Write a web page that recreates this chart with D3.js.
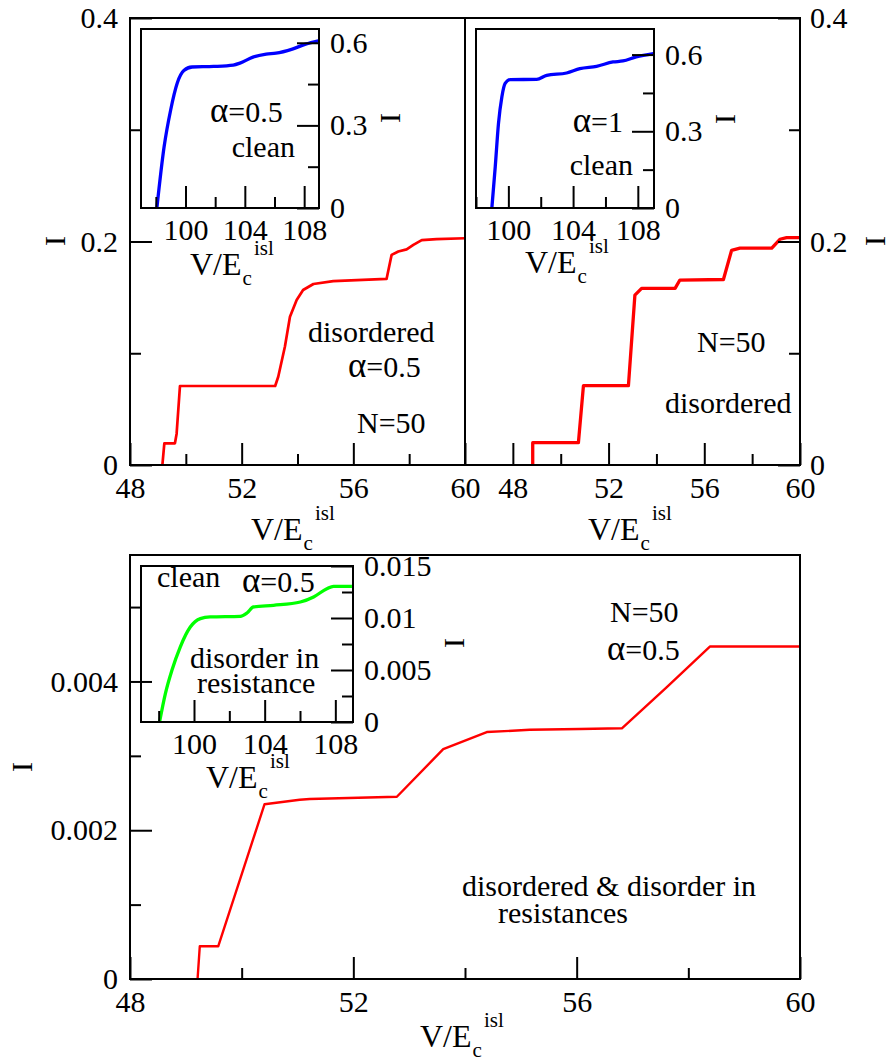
<!DOCTYPE html>
<html>
<head>
<meta charset="utf-8">
<script src="https://cdn.jsdelivr.net/npm/d3@7"></script>
<style>
  body { margin: 0; background: #fff; }
  svg text { font-family: "Liberation Serif", "Times New Roman", serif; fill: #000; }
</style>
</head>
<body>
<svg id="chart" width="887" height="1064"></svg>
<script>
// top left: disordered, alpha = 0.5
const tlV = [49.16, 49.23, 49.61, 49.67, 49.79, 53.2, 53.31, 53.55, 53.73, 53.97, 54.2, 54.57, 55.28, 57.19, 57.37, 57.61, 57.91, 58.15, 58.45, 58.98, 60]
const tlI = [0, 0.0194, 0.0194, 0.028, 0.0707, 0.0707, 0.079, 0.106, 0.1327, 0.1477, 0.1566, 0.162, 0.1646, 0.1665, 0.188, 0.191, 0.193, 0.197, 0.2013, 0.2022, 0.2029]

// top right: disordered, alpha = 1
const trV = [48.83, 48.83, 50.74, 50.95, 52.83, 53.1, 53.38, 54.78, 54.98, 56.8, 57.14, 57.49, 58.82, 59.16, 59.44, 60]
const trI = [0, 0.02, 0.02, 0.071, 0.071, 0.152, 0.158, 0.158, 0.1655, 0.166, 0.192, 0.194, 0.194, 0.202, 0.2034, 0.2034]

// bottom: disordered & disorder in resistances
const btV = [49.21, 49.25, 49.58, 50.41, 51.04, 51.22, 52.78, 53.61, 54.39, 55.16, 56.06, 56.81, 57.61, 58.39, 60]
const btI = [0, 0.00044, 0.00044, 0.00235, 0.00241, 0.00242, 0.00245, 0.00309, 0.00332, 0.00335, 0.00336, 0.00337, 0.00392, 0.00447, 0.00447]

// insets: clean chains
const in1V = [98.07, 98.56, 99.0, 99.44, 99.89, 100.44, 101.9, 103.22, 103.67, 104.55, 105.44, 106.1, 107.2, 108.1, 108.95]
const in1I = [0, 0.223, 0.356, 0.453, 0.499, 0.512, 0.514, 0.519, 0.526, 0.548, 0.559, 0.562, 0.577, 0.595, 0.607]
const in2V = [98.98, 99.19, 99.39, 99.6, 99.8, 100.11, 101.75, 102.37, 103.6, 104.42, 105.45, 106.47, 107.08, 107.9, 108.96]
const in2I = [0, 0.162, 0.331, 0.435, 0.487, 0.502, 0.503, 0.519, 0.528, 0.545, 0.554, 0.571, 0.575, 0.591, 0.604]
const in3V = [98.05, 98.38, 98.75, 99.22, 99.79, 100.36, 100.92, 102.62, 103.0, 103.37, 104.5, 106.02, 106.77, 107.52, 107.9, 108.94]
const in3I = [0, 0.00273, 0.00497, 0.00721, 0.00913, 0.00994, 0.0101, 0.01016, 0.01048, 0.01106, 0.01122, 0.01154, 0.01202, 0.01282, 0.01305, 0.01305]

// ticks
const mainXMajor = [48, 52, 56, 60]
const mainXMinor = [50, 54, 58]
const mainXLabels = ["48", "52", "56", "60"]
const topYMajor = [0, 0.2, 0.4]
const topYMinor = [0.1, 0.3]
const topYLabels = ["0", "0.2", "0.4"]
const btYMajor = [0, 0.002, 0.004]
const btYMinor = [0.001, 0.003, 0.005]
const btYLabels = ["0", "0.002", "0.004"]
const inXMajor = [100, 104, 108]
const inXMinor = [98, 102, 106]
const inXLabels = ["100", "104", "108"]
const inYMajor = [0, 0.3, 0.6]
const inYMinor = [0.15, 0.45]
const inYLabels = ["0", "0.3", "0.6"]
const in3YMajor = [0, 0.005, 0.01, 0.015]
const in3YMinor = [0.0025, 0.0075, 0.0125]
const in3YLabels = ["0", "0.005", "0.01", "0.015"]

const svg = d3.select("#chart")

function makePanel(p) {
  const x = d3.scaleLinear().domain(p.xd).range([p.x0, p.x1])
  const y = d3.scaleLinear().domain(p.yd).range([p.y1, p.y0])
  return { ...p, x, y }
}

function drawBody(p, V, I, color, width, curve) {
  svg.append("rect")
    .attr("x", p.x0).attr("y", p.y0)
    .attr("width", p.x1 - p.x0).attr("height", p.y1 - p.y0)
    .attr("fill", "#fff")
  const pts = V.map((v, i) => [v, I[i]])
  svg.append("path")
    .datum(pts)
    .attr("fill", "none")
    .attr("stroke", color)
    .attr("stroke-width", width)
    .attr("stroke-linejoin", "round")
    .attr("d", d3.line().x(d => p.x(d[0])).y(d => p.y(d[1])).curve(curve || d3.curveLinear))
}

function addAxis(gen, scale, tx, ty, major, minor, labels, pad) {
  const g = svg.append("g").attr("transform", `translate(${tx},${ty})`)
  g.call(gen(scale).tickValues(major).tickSizeInner(-22).tickSizeOuter(0)
    .tickPadding(pad).tickFormat((d, i) => labels[i]))
  g.append("g").call(gen(scale).tickValues(minor).tickSizeInner(-11).tickSizeOuter(0).tickFormat(""))
  g.selectAll(".domain").remove()
  g.attr("font-family", null).attr("font-size", 30)
  g.selectAll("line").attr("stroke", "#000").attr("stroke-width", 2)
  g.selectAll("text").attr("fill", "#000")
}

function frame(p) {
  svg.append("rect")
    .attr("x", p.x0).attr("y", p.y0)
    .attr("width", p.x1 - p.x0).attr("height", p.y1 - p.y0)
    .attr("fill", "none").attr("stroke", "#000").attr("stroke-width", 2)
}

function xTitle(x, y) {
  const t = svg.append("text").attr("x", x).attr("y", y).attr("font-size", 32)
  t.append("tspan").text("V/E")
  t.append("tspan").attr("dx", 1).attr("dy", 10).attr("font-size", 21).text("c")
  t.append("tspan").attr("dx", 2).attr("dy", -30).attr("font-size", 21).text("isl")
}

function yTitle(x, y) {
  svg.append("text")
    .attr("transform", `translate(${x},${y}) rotate(-90)`)
    .attr("text-anchor", "middle")
    .attr("dy", "0.33em")
    .attr("font-size", 30)
    .text("I")
}

// α is drawn a bit larger, like the symbol-font glyph of the original
function note(x, y, s, anchor) {
  const t = svg.append("text").attr("x", x).attr("y", y)
    .attr("font-size", 30)
    .attr("text-anchor", anchor || "start")
  if (s.startsWith("α")) {
    t.append("tspan").attr("font-size", 35).text("α")
    t.append("tspan").text(s.slice(1))
  } else {
    t.text(s)
  }
}

const tl = makePanel({ x0: 130, x1: 465, y0: 18, y1: 465, xd: [48, 60], yd: [0, 0.4] })
const tr = makePanel({ x0: 465, x1: 800, y0: 18, y1: 465, xd: [46, 60], yd: [0, 0.4] })
const bt = makePanel({ x0: 130, x1: 800, y0: 555, y1: 979, xd: [48, 60], yd: [0, 0.0057] })
const i1 = makePanel({ x0: 141, x1: 319, y0: 29, y1: 208, xd: [97, 109], yd: [0, 0.65] })
const i2 = makePanel({ x0: 476, x1: 654, y0: 29, y1: 208, xd: [98, 109], yd: [0, 0.7] })
const i3 = makePanel({ x0: 141, x1: 353, y0: 566, y1: 722, xd: [97, 109], yd: [0, 0.015] })

// main panels
drawBody(tl, tlV, tlI, "#ff0000", 2.7)
drawBody(tr, trV, trI, "#ff0000", 3.3)
drawBody(bt, btV, btI, "#ff0000", 2.4)

// insets
const insets = [
  [i1, in1V, in1I, "#0000ff", inYMajor, inYMinor, inYLabels],
  [i2, in2V, in2I, "#0000ff", inYMajor, inYMinor, inYLabels],
  [i3, in3V, in3I, "#00ff00", in3YMajor, in3YMinor, in3YLabels]
]
insets.forEach(([p, V, I, c, ym, yn, yl]) => {
  drawBody(p, V, I, c, 3.3, d3.curveMonotoneX)
  addAxis(d3.axisBottom, p.x, 0, p.y1, inXMajor, inXMinor, inXLabels, 11)
  addAxis(d3.axisRight, p.y, p.x1, 0, ym, yn, yl, 11)
  frame(p)
})

// main axes
addAxis(d3.axisBottom, tl.x, 0, tl.y1, mainXMajor, mainXMinor, mainXLabels, 12)
addAxis(d3.axisLeft, tl.y, tl.x0, 0, topYMajor, topYMinor, topYLabels, 12)
addAxis(d3.axisBottom, tr.x, 0, tr.y1, mainXMajor, mainXMinor, mainXLabels, 12)
addAxis(d3.axisRight, tr.y, tr.x1, 0, topYMajor, topYMinor, topYLabels, 10)
addAxis(d3.axisBottom, bt.x, 0, bt.y1, mainXMajor, mainXMinor, mainXLabels, 12)
addAxis(d3.axisLeft, bt.y, bt.x0, 0, btYMajor, btYMinor, btYLabels, 12)
frame(tl)
frame(tr)
frame(bt)

// axis titles
xTitle(251, 540)
xTitle(588, 540)
xTitle(420, 1047)
xTitle(190, 275)
xTitle(525, 273)
xTitle(206, 788)
yTitle(55, 241)
yTitle(875, 241)
yTitle(22, 767)
yTitle(390, 118)
yTitle(725, 119)
yTitle(454, 643)

// annotations
note(308, 342, "disordered")
note(348, 377, "α=0.5")
note(357, 433, "N=50")
note(697, 352, "N=50")
note(665, 413, "disordered")
note(210, 122, "α=0.5")
note(295, 157, "clean", "end")
note(623, 132, "α=1", "end")
note(633, 175, "clean", "end")
note(610, 622, "N=50")
note(607, 660, "α=0.5")
note(462, 896, "disordered & disorder in")
note(498, 923, "resistances")
note(157, 587, "clean")
note(242, 592, "α=0.5")
note(190, 668, "disorder in")
note(197, 693, "resistance")
</script>
</body>
</html>
